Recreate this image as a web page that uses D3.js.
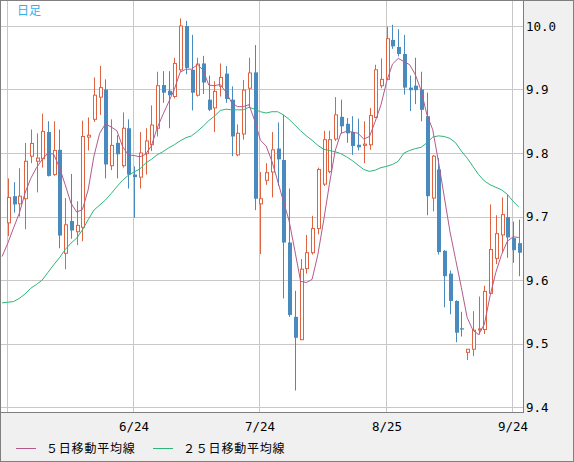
<html>
<head>
<meta charset="utf-8">
<title>日足</title>
<style>
body { margin: 0; background: #f0f0f0; }
svg { display: block; }
</style>
</head>
<body>
<svg width="574" height="462"></svg>
<script src="https://d3js.org/d3.v7.min.js"></script>
<script>

// daily candles (index 0..89)
var opens = [9.690,9.732,9.720,9.728,9.795,9.787,9.791,9.833,9.766,9.805,
 9.642,9.693,9.676,9.683,9.825,9.853,9.888,9.900,9.780,9.816,
 9.780,9.839,9.766,9.762,9.799,9.813,9.839,9.907,9.898,9.889,
 9.931,10.000,9.931,9.891,9.941,9.884,9.871,9.905,9.925,9.884,
 9.797,9.830,9.902,9.927,9.720,9.757,9.770,9.807,9.789,9.659,
 9.542,9.506,9.618,9.643,9.681,9.751,9.771,9.822,9.857,9.846,
 9.833,9.813,9.812,9.813,9.856,9.906,9.916,9.978,9.967,9.956,
 9.903,9.906,9.900,9.858,9.729,9.774,9.646,9.610,9.567,9.524,
 9.486,9.491,9.522,9.522,9.579,9.634,9.671,9.699,9.666,9.658];
var closes = [9.730,9.719,9.732,9.787,9.815,9.792,9.834,9.764,9.804,9.670,
 9.687,9.678,9.686,9.826,9.828,9.891,9.903,9.782,9.812,9.798,
 9.839,9.766,9.762,9.800,9.819,9.844,9.906,9.895,9.891,9.941,
 10.000,9.934,9.895,9.940,9.911,9.868,9.897,9.919,9.885,9.826,
 9.831,9.899,9.926,9.728,9.728,9.769,9.805,9.790,9.659,9.545,
 9.509,9.617,9.643,9.681,9.774,9.821,9.821,9.860,9.842,9.831,
 9.811,9.809,9.814,9.859,9.931,9.916,9.980,9.968,9.956,9.903,
 9.899,9.899,9.868,9.732,9.795,9.644,9.606,9.567,9.517,9.522,
 9.491,9.521,9.523,9.582,9.648,9.673,9.703,9.667,9.647,9.643];
var highs = [9.760,9.754,9.776,9.816,9.837,9.831,9.862,9.850,9.850,9.837,
 9.729,9.767,9.724,9.851,9.856,9.919,9.937,9.916,9.853,9.828,
 9.864,9.853,9.779,9.833,9.839,9.875,9.928,9.929,9.929,9.950,
 10.012,10.008,9.986,9.950,9.953,9.922,9.913,9.941,9.937,9.905,
 9.845,9.915,9.950,9.970,9.770,9.784,9.833,9.848,9.860,9.744,
 9.583,9.633,9.671,9.701,9.777,9.835,9.835,9.888,9.884,9.855,
 9.858,9.854,9.850,9.871,9.939,9.949,9.999,10.002,9.995,9.986,
 9.922,9.950,9.928,9.895,9.797,9.792,9.647,9.615,9.568,9.550,
 9.491,9.551,9.574,9.591,9.719,9.702,9.730,9.735,9.692,9.695];
var lows = [9.669,9.706,9.700,9.680,9.784,9.738,9.777,9.763,9.764,9.650,
 9.617,9.665,9.655,9.661,9.804,9.849,9.860,9.760,9.773,9.760,
 9.777,9.744,9.698,9.744,9.766,9.803,9.826,9.879,9.839,9.886,
 9.928,9.924,9.867,9.889,9.893,9.866,9.833,9.889,9.879,9.795,
 9.795,9.821,9.873,9.710,9.641,9.750,9.730,9.748,9.571,9.542,
 9.426,9.506,9.610,9.640,9.672,9.748,9.768,9.819,9.831,9.816,
 9.797,9.804,9.784,9.805,9.855,9.902,9.915,9.964,9.952,9.892,
 9.866,9.877,9.850,9.702,9.708,9.640,9.557,9.546,9.502,9.511,
 9.474,9.480,9.514,9.515,9.579,9.625,9.643,9.635,9.627,9.606];

// moving averages, first value sits one day before the first candle
var ma5 = [9.637,9.658,9.682,9.705,9.737,9.760,9.777,9.790,9.800,9.798,9.777,
 9.750,9.721,9.707,9.711,9.742,9.795,9.831,9.846,9.841,9.835,
 9.810,9.797,9.796,9.794,9.798,9.811,9.839,9.860,9.880,9.900,
 9.927,9.932,9.932,9.939,9.931,9.907,9.906,9.908,9.896,9.879,
 9.873,9.873,9.876,9.851,9.820,9.811,9.787,9.756,9.724,9.693,
 9.646,9.598,9.596,9.601,9.640,9.693,9.750,9.803,9.831,9.834,
 9.833,9.831,9.822,9.826,9.850,9.876,9.913,9.940,9.949,9.944,
 9.939,9.923,9.898,9.860,9.837,9.787,9.732,9.677,9.632,9.588,
 9.541,9.521,9.514,9.530,9.575,9.612,9.640,9.661,9.668,9.667];
var ma25 = [9.564,9.565,9.566,9.571,9.578,9.587,9.593,9.600,9.612,9.624,9.635,
 9.648,9.658,9.666,9.679,9.695,9.710,9.718,9.726,9.736,9.747,
 9.757,9.765,9.770,9.775,9.784,9.790,9.797,9.802,9.808,9.813,
 9.819,9.824,9.827,9.834,9.842,9.851,9.858,9.867,9.869,9.868,
 9.868,9.868,9.872,9.869,9.865,9.863,9.865,9.865,9.860,9.853,
 9.844,9.835,9.827,9.820,9.812,9.806,9.804,9.802,9.799,9.794,
 9.788,9.781,9.774,9.771,9.773,9.777,9.779,9.782,9.787,9.800,
 9.804,9.807,9.809,9.816,9.825,9.827,9.826,9.823,9.816,9.803,
 9.792,9.779,9.766,9.756,9.750,9.746,9.742,9.735,9.724,9.715];

var yTicks = [9.4,9.5,9.6,9.7,9.8,9.9,10.0];
var xTickIdx = [0,22,44,66,88];
var xTickLabels = ["","6/24","7/24","8/25","9/24"];
var legendNames = ["５日移動平均線","２５日移動平均線"];

var upColor = "#e0633f", downColor = "#4a8bbf";
var ma5Color = "#b35a8c", ma25Color = "#2fb47a";
var gridColor = "#c8c8c8", frameColor = "#7f7f7f";

var svg = d3.select("svg");
var plotR = 523, plotB = 412;

var x = d3.scaleLinear().domain([0, 89]).range([7.8, 518.8]);
var y = d3.scaleLinear().domain([9.4, 10.0]).range([407, 26]);

svg.append("rect").attr("x",0).attr("y",0).attr("width",574).attr("height",462)
  .style("fill","#f0f0f0");
svg.append("rect").attr("x",1).attr("y",1).attr("width",plotR-1).attr("height",plotB-1)
  .style("fill","#fff");

svg.append("defs").append("clipPath").attr("id","plot")
  .append("rect").attr("x",1).attr("y",1).attr("width",plotR-1).attr("height",plotB-1);

// grid
svg.selectAll(".hgrid").data(yTicks).enter().append("line")
  .attr("x1",1).attr("x2",plotR)
  .attr("y1",function(d){ return Math.round(y(d))+0.5; })
  .attr("y2",function(d){ return Math.round(y(d))+0.5; })
  .style("stroke",gridColor);
svg.selectAll(".vgrid").data(xTickIdx).enter().append("line")
  .attr("x1",function(d){ return Math.round(x(d))-0.5; })
  .attr("x2",function(d){ return Math.round(x(d))-0.5; })
  .attr("y1",1).attr("y2",plotB)
  .style("stroke",gridColor);

var g = svg.append("g").attr("clip-path","url(#plot)");

// candles
var idx = d3.range(opens.length);
var candle = g.selectAll(".c").data(idx).enter().append("g");
candle.append("line")
  .attr("x1",function(i){ return Math.round(x(i))+0.5; })
  .attr("x2",function(i){ return Math.round(x(i))+0.5; })
  .attr("y1",function(i){ return y(highs[i]); })
  .attr("y2",function(i){ return y(lows[i]); })
  .style("stroke",function(i){ return closes[i] >= opens[i] ? upColor : downColor; })
  .style("stroke-width",1);
candle.append("rect")
  .attr("x",function(i){ return closes[i] >= opens[i] ? Math.round(x(i))-0.5 : Math.round(x(i))-1; })
  .attr("width",function(i){ return closes[i] >= opens[i] ? 3 : 4; })
  .attr("y",function(i){ return y(Math.max(opens[i],closes[i])); })
  .attr("height",function(i){ return Math.max(1, Math.abs(y(opens[i])-y(closes[i]))); })
  .style("fill",function(i){ return closes[i] >= opens[i] ? "#fff" : downColor; })
  .style("stroke",function(i){ return closes[i] >= opens[i] ? upColor : "none"; })
  .style("stroke-width",1);

// moving averages
var line = d3.line().x(function(d,i){ return x(i-1); }).y(function(d){ return y(d); });
g.append("path").attr("d",line(ma25)).style("fill","none").style("stroke",ma25Color).style("stroke-width",1);
g.append("path").attr("d",line(ma5)).style("fill","none").style("stroke",ma5Color).style("stroke-width",1);

// frame
svg.append("line").attr("x1",plotR+0.5).attr("x2",plotR+0.5).attr("y1",0).attr("y2",plotB+1)
  .style("stroke",frameColor);
svg.append("line").attr("x1",0).attr("x2",plotR+1).attr("y1",plotB+0.5).attr("y2",plotB+0.5)
  .style("stroke",frameColor);
svg.append("rect").attr("x",0.5).attr("y",0.5).attr("width",573).attr("height",461)
  .style("fill","none").style("stroke",frameColor);

// labels
svg.append("text").attr("x",17).attr("y",15).text("日足")
  .attr("font-family","'Noto Sans CJK JP', sans-serif").attr("font-size","12px")
  .attr("fill","#35aee8");

svg.selectAll(".ylab").data(yTicks).enter().append("text")
  .attr("x",526).attr("y",function(d){ return y(d)+4.5; })
  .text(function(d){ return d.toFixed(1); })
  .attr("font-family","'DejaVu Sans Mono', monospace").attr("font-size","12.5px")
  .attr("fill","#000");

svg.selectAll(".xlab").data(xTickIdx).enter().append("text")
  .attr("x",function(d){ return Math.round(x(d)); }).attr("y",431)
  .attr("text-anchor","middle")
  .text(function(d,i){ return xTickLabels[i]; })
  .attr("font-family","'DejaVu Sans Mono', monospace").attr("font-size","12.5px")
  .attr("fill","#000");

var legX = [16,153];
var legColors = [ma5Color, ma25Color];
var leg = svg.selectAll(".leg").data(legendNames).enter().append("g")
  .attr("transform",function(d,i){ return "translate("+legX[i]+",448)"; });
leg.append("line").attr("x1",0).attr("x2",20).attr("y1",0.5).attr("y2",0.5)
  .style("stroke",function(d,i){ return legColors[i]; });
leg.append("text").attr("x",30).attr("y",5)
  .text(function(d){ return d; })
  .attr("font-family","'Noto Sans CJK JP', sans-serif").attr("font-size","12px")
  .attr("letter-spacing","0.8px")
  .attr("fill","#000");

</script>
</body>
</html>
